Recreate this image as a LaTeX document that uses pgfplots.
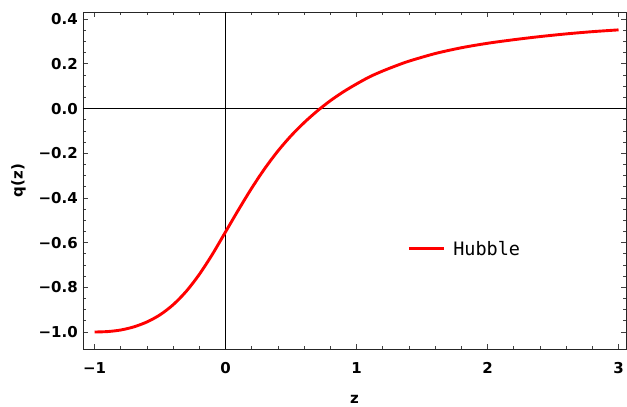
\documentclass[border=0pt]{standalone}
\usepackage{fontspec}
\setmainfont{DejaVu Sans}
\newfontfamily\legmono{DejaVu Sans Mono}
\usepackage{pgfplots}
\pgfplotsset{compat=1.18}

\begin{document}
\begin{tikzpicture}
\begin{axis}[
  scale only axis,
  width=543pt,height=337pt,
  xmin=-1.088,xmax=3.057,
  ymin=-1.076,ymax=0.432,
  axis line style={black!85,line width=0.8pt},
  tick align=inside,
  xtick={-1,0,1,2,3},
  xticklabels={−1,0,1,2,3},
  ytick={-1,-0.8,-0.6,-0.4,-0.2,0,0.2,0.4},
  yticklabels={−1.0,−0.8,−0.6,−0.4,−0.2,0.0,0.2,0.4},
  minor x tick num=4,
  minor y tick num=3,
  major tick length=5pt,
  minor tick length=3pt,
  every tick/.style={black!75,line width=0.7pt},
  tick label style={font=\fontsize{15}{18}\selectfont\bfseries,inner sep=0pt},
  xticklabel style={anchor=base,yshift=-24.3pt},
  yticklabel style={anchor=east,xshift=-5pt},
  xlabel={z},
  ylabel={q(z)},
  every axis x label/.style={at={(axis description cs:0.5,0)},anchor=base,yshift=-54pt,
    font=\fontsize{15}{18}\selectfont\bfseries,inner sep=0pt},
  every axis y label/.style={at={(axis description cs:0,0.5)},xshift=-64.5pt,rotate=90,anchor=center,
    font=\fontsize{15}{18}\selectfont\bfseries,inner sep=0pt},
  legend style={draw=none,fill=none,at={(axis description cs:0.597,0.297)},anchor=west,
    font=\fontsize{18.5}{20}\selectfont\legmono,inner sep=0pt},
  legend image code/.code={\draw[#1] (0pt,0pt) -- (35pt,0pt);},
]
\draw[black,line width=0.7pt] (axis cs:0,-1.076) -- (axis cs:0,0.432);
\draw[black,line width=0.7pt] (axis cs:-1.088,0) -- (axis cs:3.057,0);
\addplot[red,line width=2.9pt,smooth] coordinates {
(-1.0,-1.000) (-0.9,-0.998) (-0.8,-0.991) (-0.7,-0.977) (-0.6,-0.955)
(-0.5,-0.923) (-0.4,-0.878) (-0.3,-0.818) (-0.2,-0.742) (-0.1,-0.652)
(0.0,-0.552) (0.1,-0.452) (0.2,-0.356) (0.3,-0.268) (0.4,-0.190)
(0.5,-0.122) (0.6,-0.063) (0.7,-0.011) (0.8,0.035) (0.9,0.075)
(1.0,0.110) (1.1,0.142) (1.2,0.168) (1.3,0.191) (1.4,0.212) (1.6,0.246) (1.8,0.272)
(2.0,0.292) (2.2,0.308) (2.4,0.322) (2.6,0.334) (2.8,0.344) (3.0,0.352)
};
\addlegendentry{\hspace{6pt}Hubble}
\end{axis}
\pgfresetboundingbox
\path[use as bounding box] (-83pt,-58pt) rectangle (544pt,349pt);
\end{tikzpicture}
\end{document}
